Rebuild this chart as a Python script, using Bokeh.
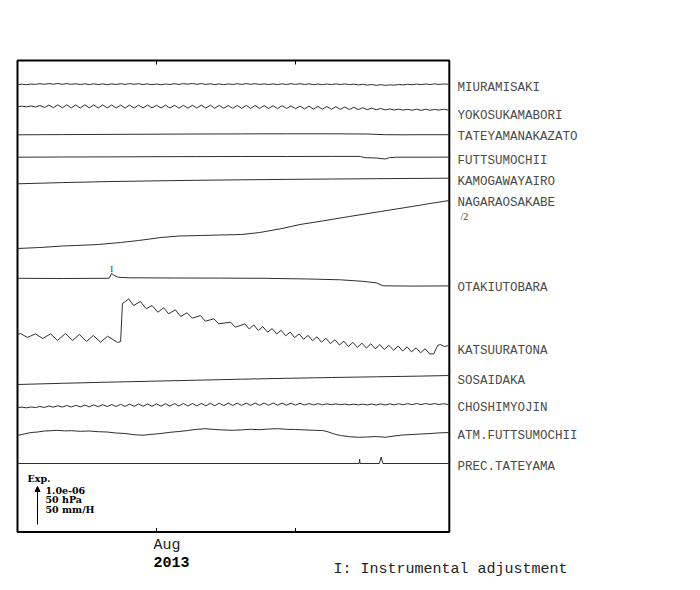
from bokeh.plotting import figure
from bokeh.models import Range1d, Arrow, NormalHead, ColumnDataSource
from bokeh.core.properties import value
from bokeh.embed import file_html
from bokeh.resources import INLINE

# ---------------- data (time in days since 2013-07-01) ----------------
DAYS = list(range(97))
T_END = 96.3            # right edge of the record window (days)
MONTH_TICKS = [31, 62]  # Aug 1, Sep 1

MIURA = [0, 0.3, -0.2, 0.5, 0.1, 0.8, 0.2, 0.9, 0.3, 1.0,
         0.2, 0.9, 0.1, 0.8, 0.0, 0.7, -0.1, 0.7, -0.1, 0.6,
         -0.2, 0.6, 0.0, 0.8, 0.1, 0.9, 0.2, 0.8, 0.0, 0.6,
         -0.2, 0.5, -0.3, 0.5, 0.0, 0.8, 0.1, 0.9, 0.3, 1.0,
         0.2, 0.9, 0.1, 0.7, -0.1, 0.6, -0.2, 0.6, 0.0, 0.8,
         0.1, 0.9, 0.2, 0.8, 0.0, 0.7, -0.1, 0.6, -0.1, 0.7,
         0.0, 0.8, 0.1, 0.8, 0.0, 0.7, -0.2, 0.5, -0.2, 0.5,
         -0.1, 0.6, 0.0, 0.6, -0.2, 0.4, -0.4, 0.2, -0.6, 0.0,
         -0.8, -0.2, -0.9, -0.3, -0.7, 0.0, -0.4, 0.2, -0.2, 0.4,
         -0.1, 0.5, 0.0, 0.6, 0.1, 0.5, 0.3]

YOKOSUKA = [0, 0.3, -0.3, 0.5, -0.5, 1.0, -1.0, 1.4, -1.2, 1.6,
            -1.3, 1.7, -1.4, 1.6, -1.5, 1.7, -1.4, 1.6, -1.5, 1.6,
            -1.4, 1.5, -1.5, 1.4, -1.6, 1.4, -1.5, 1.3, -1.4, 1.4,
            -1.3, 1.2, -1.4, 1.3, -1.5, 1.2, -1.6, 1.1, -1.6, 1.2,
            -1.5, 1.3, -1.6, 1.3, -1.7, 1.1, -1.8, 1.0, -1.9, 1.0,
            -1.8, 1.1, -1.9, 1.0, -2.0, 0.9, -2.0, 0.8, -2.1, 0.8,
            -2.0, 0.6, -2.2, 0.4, -2.4, 0.3, -2.6, 0.1, -2.7, 0.0,
            -2.8, -0.2, -2.9, -0.5, -3.0, -0.8, -3.1, -1.2, -3.2, -1.6,
            -3.3, -2.0, -3.4, -2.4, -3.5, -2.6, -3.6, -2.8, -3.8, -2.6,
            -3.9, -2.7, -3.8, -2.9, -3.6, -2.8, -3.5]

TATEYAMA_T = [0, 10, 20, 30, 40, 50, 60, 70, 78, 82, 86, 90, 96.3]
TATEYAMA = [0, 0.2, 0.4, 0.6, 0.8, 0.9, 1.0, 1.0, 0.8, 0.1, 0.0, 0.1, 0.1]

FUTTSU_T = [0, 10, 20, 30, 40, 50, 60, 70, 75.5, 76.5, 77.5, 80, 82, 83, 84.5, 88, 92, 96.3]
FUTTSU = [0, 0.2, 0.3, 0.5, 0.6, 0.7, 0.7, 0.8, 0.8, 0.7, -0.5, -0.8, -1.8, -0.5, 0.0, 0.0, 0.0, 0.1]

KAMOGAWA_T = [0, 10, 20, 30, 40, 50, 60, 70, 80, 90, 96.3]
KAMOGAWA = [0, 1.2, 2.2, 2.9, 3.5, 4.0, 4.4, 4.8, 5.1, 5.4, 5.6]

NAGARA_T = [0, 5, 10, 13, 18, 23, 27, 32, 36, 41, 45, 50, 54, 59, 63, 68, 74, 81, 88, 92, 96.3]
NAGARA = [0, 1, 2.5, 3, 4, 6, 8, 11, 12.5, 13, 13.5, 14, 16, 20, 24, 27.5, 32, 37, 42, 45, 48]

OTAKI_T = [0, 10, 20, 20.5, 21, 21.5, 22.5, 25, 35, 45, 55, 65, 72, 77, 80, 81.5, 88, 96.3]
OTAKI = [0, -0.2, 0, 0.3, 5.0, 3.0, 1.0, 0.5, 0.3, 0.2, 0, -0.7, -1.5, -3.0, -4.5, -7.5, -7.8, -7.6]
ADJUST_T = [21.0]   # instrumental adjustment on OTAKIUTOBARA

KATSUURA_T = [0.0, 0.7, 2.2, 4.0, 5.6, 7.4, 8.9, 10.7, 12.3, 13.8,
              15.4, 16.9, 18.5, 20.1, 22.3, 23.0, 23.4, 24.1, 24.8, 25.9,
              27.4, 28.7, 30.0, 31.3, 32.6, 33.7, 35.2, 36.4, 37.8, 39.0,
              40.8, 41.9, 43.8, 44.9, 47.5, 48.6, 50.7, 51.7, 52.7,
              53.7, 54.7, 55.8, 56.8, 57.8, 58.8, 59.8, 60.8, 61.8, 62.8,
              63.8, 64.8, 65.8, 66.8, 67.8, 68.8, 69.8, 70.8, 71.8, 72.8,
              73.8, 74.8, 75.8, 76.8, 77.8, 78.8, 79.8, 80.8, 81.8, 82.8,
              83.9, 84.9, 85.9, 86.9, 87.9, 88.9, 89.9, 90.9, 91.9, 92.8,
              93.7, 94.3, 95.2, 96.1]
KATSUURA = [-1.0, 0.0, -4.0, -0.3, -5.0, -0.3, -7.0, 0.0, -7.0, -1.0,
            -8.0, -2.0, -8.7, -2.7, -9.0, -8.0, 30.0, 32.0, 34.7, 28.0,
            32.0, 24.7, 28.0, 21.3, 25.7, 19.7, 23.7, 17.0, 20.7, 15.3,
            18.0, 12.3, 14.7, 9.7, 11.3, 6.3, 9.6, 4.5, 8.6,
            3.0, 6.8, 1.3, 5.0, -0.5, 3.2, -2.3, 1.4, -4.1, -0.4,
            -5.8, -1.9, -7.2, -3.3, -8.7, -4.8, -10.1, -6.2, -11.5, -7.7,
            -13.0, -8.9, -13.9, -9.6, -14.6, -10.3, -15.3, -11.1, -16.0, -11.8,
            -16.7, -12.5, -17.5, -13.4, -18.4, -14.3, -19.3, -15.2, -20.3, -20.5,
            -12.0, -11.0, -13.0, -12.0]

SOSAI_T = [0, 10, 20, 30, 40, 50, 60, 70, 80, 90, 96.3]
SOSAI = [0, 1.2, 2.3, 3.3, 4.3, 5.3, 6.2, 7.0, 7.7, 8.4, 9.0]

CHOSHI = [0, 0.3, -0.3, 0.5, 0.0, 1.0, 0.0, 1.5, 0.3, 1.8,
          0.4, 2.0, 0.5, 2.2, 0.6, 2.4, 0.7, 2.6, 0.8, 2.8,
          0.9, 3.0, 1.0, 3.2, 1.1, 3.3, 1.2, 3.4, 1.2, 3.5,
          1.3, 3.6, 1.3, 3.8, 1.4, 3.9, 1.5, 4.0, 1.5, 4.0,
          1.6, 4.1, 1.7, 4.2, 1.8, 4.3, 1.9, 4.4, 2.0, 4.4,
          2.0, 4.4, 2.1, 4.5, 2.1, 4.5, 2.2, 4.5, 2.3, 4.4,
          2.3, 4.3, 2.4, 4.2, 2.5, 4.0, 2.6, 3.8, 2.7, 3.7,
          2.8, 3.6, 2.8, 3.4, 2.7, 3.3, 2.6, 3.4, 2.5, 3.5,
          2.4, 3.6, 2.5, 3.7, 2.6, 3.8, 2.7, 3.9, 2.8, 4.0,
          2.9, 4.0, 3.0, 3.9, 3.0, 3.8, 3.0]

ATM_T = [0, 1.5, 3, 4.5, 6, 7.5, 9, 10.5, 12, 14, 16, 18, 20, 22, 24, 26, 28, 30,
         32, 34, 36, 38, 40, 42, 44, 46, 48, 50, 52, 54, 56, 58, 60, 62, 64, 66,
         68, 69, 70, 71, 72, 74, 76, 78, 80, 82, 84, 86, 88, 90, 92, 94, 96.3]
ATM = [0, 1.5, 3, 3.5, 4.5, 4.8, 5.2, 4.6, 4.8, 4.2, 4.5, 3.8, 3.5, 2.5, 2.0, 0.8, 0.3, 1.2,
       2.0, 3.2, 4.0, 5.0, 6.2, 6.8, 6.0, 5.5, 5.2, 5.6, 6.2, 5.8, 6.5, 6.8, 6.2, 6.0, 5.6, 5.2,
       5.0, 4.0, 2.5, 1.0, 0.0, -1.2, -1.8, -1.5, -1.0, -1.8, -0.5, 0.5, 1.0, 1.5, 2.0, 2.6, 3.0]

PREC_T = [0, 76.2, 76.3, 76.4, 80.7, 81.1, 81.5, 96.3]
PREC = [0, 0, 4.5, 0, 0, 6.5, 0, 0]

NAMES = ["MIURAMISAKI", "YOKOSUKAMABORI", "TATEYAMANAKAZATO", "FUTTSUMOCHII",
         "KAMOGAWAYAIRO", "NAGARAOSAKABE", "OTAKIUTOBARA", "KATSUURATONA",
         "SOSAIDAKA", "CHOSHIMYOJIN", "ATM.FUTTSUMOCHII", "PREC.TATEYAMA"]
SCALE_TEXT = ["1.0e-06", "50 hPa", "50 mm/H"]

# ---------------- layout (page pixel positions) ----------------
W, H = 690, 585
PX_PER_DAY = 4.484
LEFT_PX = 17.0
BOTTOM_PX = 531.5
TOP_PX = 60.0

def dx(px):
    return (px - LEFT_PX) / PX_PER_DAY

def dy(py):
    return BOTTOM_PX - py

SERIES = [
    (DAYS, MIURA, 84.0),
    (DAYS, YOKOSUKA, 106.0),
    (TATEYAMA_T, TATEYAMA, 134.3),
    (FUTTSU_T, FUTTSU, 156.7),
    (KAMOGAWA_T, KAMOGAWA, 183.3),
    (NAGARA_T, NAGARA, 248.0),
    (OTAKI_T, OTAKI, 277.8),
    (KATSUURA_T, KATSUURA, 333.0),
    (SOSAI_T, SOSAI, 384.0),
    (DAYS, CHOSHI, 407.0),
    (ATM_T, ATM, 435.0),
    (PREC_T, PREC, 463.0),
]
LABEL_Y = [87.5, 115.3, 136.7, 160.0, 181.0, 202.7, 287.3, 350.0, 380.0, 407.3, 435.0, 466.7]

p = figure(width=W, height=H, min_border=0,
           min_border_left=0, min_border_right=0, min_border_top=0, min_border_bottom=0,
           x_range=Range1d(dx(0), dx(W)), y_range=Range1d(dy(H), dy(0)),
           x_axis_type=None, y_axis_type=None,
           output_backend="svg", toolbar_location=None)
p.outline_line_color = None
p.background_fill_color = "white"
p.border_fill_color = "white"

# plot box
p.quad(left=[0], right=[T_END], bottom=[0], top=[dy(TOP_PX)],
       fill_color=None, line_color="black", line_width=2)
# inward month ticks, bottom and top
p.segment(x0=MONTH_TICKS, x1=MONTH_TICKS, y0=[0, 0], y1=[4, 4], line_color="black", line_width=1)
p.segment(x0=MONTH_TICKS, x1=MONTH_TICKS, y0=[dy(TOP_PX)] * 2, y1=[dy(TOP_PX) - 4] * 2,
          line_color="black", line_width=1)

for (t, v, base) in SERIES:
    p.line(t, [dy(base) + val for val in v], line_color="#2e2e2e", line_width=1)

MONO = "Liberation Mono"
src = ColumnDataSource(dict(x=[dx(457)] * len(NAMES), y=[dy(v) for v in LABEL_Y], text=NAMES))
p.text(x="x", y="y", text="text", source=src, text_font=value(MONO),
       text_font_size="12.5px", text_baseline="middle", text_align="left", text_color="#4a4a4a")

p.text(x=[dx(460)], y=[dy(215.5)], text=["/2"], text_font=value("Liberation Serif"),
       text_font_size="10px", text_baseline="middle", text_color="#444444")
p.text(x=ADJUST_T, y=[dy(268.3)], text=["I"], text_font=value("Liberation Serif"),
       text_font_size="9px", text_baseline="middle", text_align="center", text_color="#333333")

# scale legend
p.add_layout(Arrow(end=NormalHead(size=5, fill_color="black", line_color="black"),
                   x_start=dx(37), y_start=dy(524), x_end=dx(37), y_end=dy(486),
                   line_color="black", line_width=1))
SERIF_B = "DejaVu Serif"
p.text(x=[dx(27)], y=[dy(478.3)], text=["Exp."], text_font=value(SERIF_B),
       text_font_size="9.5px", text_font_style="bold", text_baseline="middle", text_color="black")
p.text(x=[dx(45)] * 3, y=[dy(489.7), dy(499.3), dy(508.8)], text=SCALE_TEXT,
       text_font=value(SERIF_B), text_font_size="9.5px", text_font_style="bold",
       text_baseline="middle", text_color="black")

# bottom annotations
p.text(x=[dx(153)], y=[dy(544.5)], text=["Aug"], text_font=value(MONO),
       text_font_size="15px", text_baseline="middle", text_color="#222222")
p.text(x=[dx(153)], y=[dy(561)], text=["2013"], text_font=value(MONO),
       text_font_size="15px", text_font_style="bold", text_baseline="middle", text_color="black")
p.text(x=[dx(333)], y=[dy(568.5)], text=["I: Instrumental adjustment"], text_font=value(MONO),
       text_font_size="15px", text_baseline="middle", text_color="#222222")

open("out.html", "w").write(file_html(p, INLINE))
